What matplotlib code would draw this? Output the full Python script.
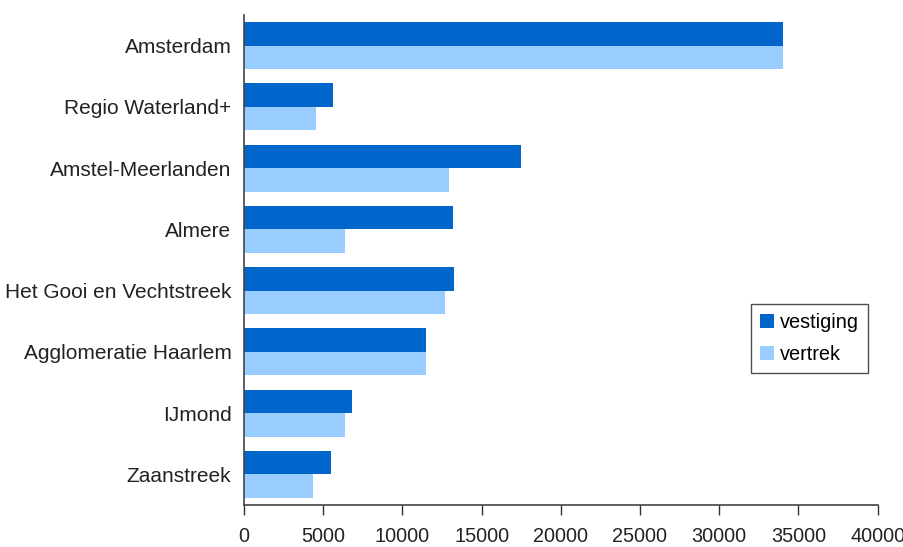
import matplotlib
matplotlib.use("Agg")
import matplotlib.pyplot as plt
from matplotlib import font_manager
import numpy as np

categories = ["Amsterdam", "Regio Waterland+", "Amstel-Meerlanden", "Almere",
              "Het Gooi en Vechtstreek", "Agglomeratie Haarlem", "IJmond", "Zaanstreek"]
vestiging = [34000, 5620, 17490, 13190, 13260, 11490, 6820, 5490]
vertrek = [34000, 4550, 12940, 6380, 12690, 11490, 6380, 4360]
xticks = [0, 5000, 10000, 15000, 20000, 25000, 30000, 35000, 40000]

names = {f.name for f in font_manager.fontManager.ttflist}
if "Liberation Sans Narrow" in names:
    fam = ["Liberation Sans Narrow", "DejaVu Sans"]
    fs = 17.5
    fsx = 17.5
    fsl = 17.5
else:
    fam = ["Liberation Sans", "DejaVu Sans"]
    fs = 15
    fsx = 14.3
    fsl = 14.3
plt.rcParams['font.family'] = fam

fig = plt.figure(figsize=(9.04, 5.47), dpi=100)
ax = fig.add_axes([0.2699, 0.0768, 0.7009, 0.8958])

y = np.arange(len(categories))
h = 0.384
ax.barh(y - h / 2, vestiging, height=h, color="#0066CC", label="vestiging")
ax.barh(y + h / 2, vertrek, height=h, color="#99CCFF", label="vertrek")

ax.set_ylim(len(categories) - 0.5, -0.5)
ax.set_xlim(0, 40000)
ax.set_yticks(y)
ax.set_yticklabels(categories, fontsize=fs, color="#222222")
ax.set_xticks(xticks)
ax.set_xticklabels([str(t) for t in xticks], fontsize=fsx, color="#222222")
ax.tick_params(axis="y", length=0, pad=9)
ax.tick_params(axis="x", length=7, width=1, color="#333333", pad=9, direction="out")
for s in ["top", "right"]:
    ax.spines[s].set_visible(False)
for s in ["left", "bottom"]:
    ax.spines[s].set_color("#444444")
    ax.spines[s].set_linewidth(1.2)

leg = ax.legend(loc="upper left", bbox_to_anchor=(0.80, 0.41), fontsize=fsl,
                frameon=True, fancybox=False, edgecolor="#222222",
                handlelength=0.7, handleheight=0.7, handletextpad=0.3,
                borderpad=0.45, labelspacing=0.65, borderaxespad=0)
leg.get_frame().set_linewidth(1.0)

fig.savefig("out.png", dpi=100)
